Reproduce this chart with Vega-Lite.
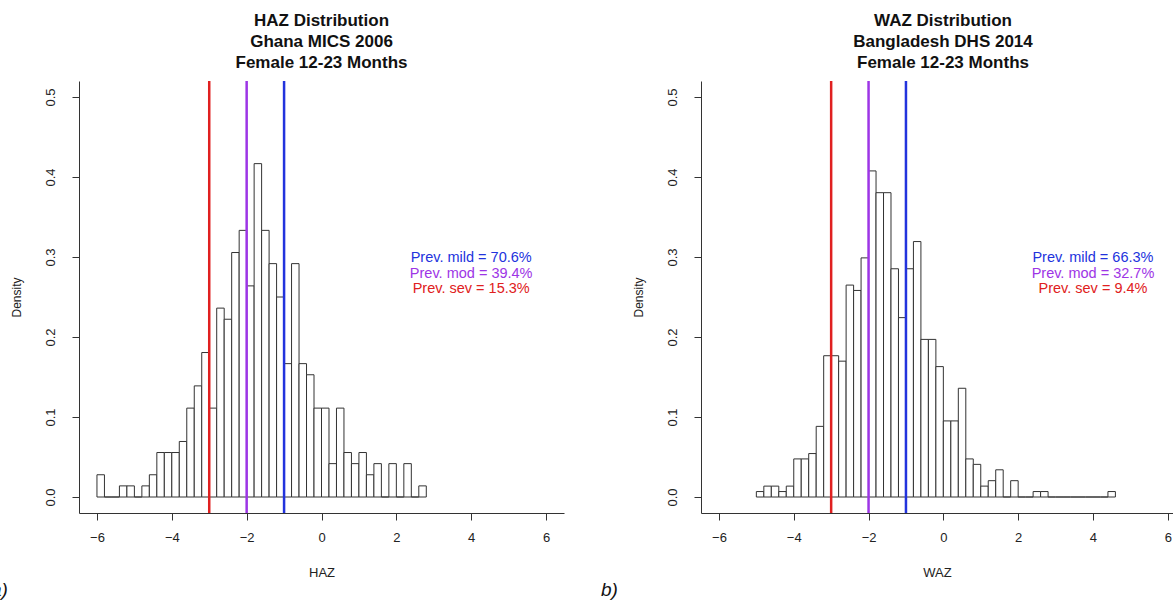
{
  "$schema": "https://vega.github.io/schema/vega-lite/v6.json",
  "background": "white",
  "padding": {"left": -9, "top": 11, "right": 0, "bottom": 0},
  "spacing": 37,
  "config": {
    "font": "Liberation Sans",
    "view": {"stroke": null},
    "axis": {"grid": false, "domainColor": "#333", "tickColor": "#333", "labelColor": "#222", "titleColor": "#222", "titleFontWeight": "normal", "labelFontSize": 13, "titleFontSize": 13, "tickSize": 7, "domainWidth": 1, "tickWidth": 1},
    "title": {"fontSize": 17, "fontWeight": "bold", "color": "#111", "anchor": "middle", "lineHeight": 21}
  },
  "datasets": {
    "haz": [
      {"lo": -6.0, "hi": -5.8, "density": 0.0278}, {"lo": -5.8, "hi": -5.6, "density": 0}, {"lo": -5.6, "hi": -5.4, "density": 0},
      {"lo": -5.4, "hi": -5.2, "density": 0.0139}, {"lo": -5.2, "hi": -5.0, "density": 0.0139}, {"lo": -5.0, "hi": -4.8, "density": 0},
      {"lo": -4.8, "hi": -4.6, "density": 0.0139}, {"lo": -4.6, "hi": -4.4, "density": 0.0278}, {"lo": -4.4, "hi": -4.2, "density": 0.0556},
      {"lo": -4.2, "hi": -4.0, "density": 0.0556}, {"lo": -4.0, "hi": -3.8, "density": 0.0556}, {"lo": -3.8, "hi": -3.6, "density": 0.0694},
      {"lo": -3.6, "hi": -3.4, "density": 0.1111}, {"lo": -3.4, "hi": -3.2, "density": 0.1389}, {"lo": -3.2, "hi": -3.0, "density": 0.1806},
      {"lo": -3.0, "hi": -2.8, "density": 0.1111}, {"lo": -2.8, "hi": -2.6, "density": 0.2361}, {"lo": -2.6, "hi": -2.4, "density": 0.2222},
      {"lo": -2.4, "hi": -2.2, "density": 0.3056}, {"lo": -2.2, "hi": -2.0, "density": 0.3333}, {"lo": -2.0, "hi": -1.8, "density": 0.2639},
      {"lo": -1.8, "hi": -1.6, "density": 0.4167}, {"lo": -1.6, "hi": -1.4, "density": 0.3333}, {"lo": -1.4, "hi": -1.2, "density": 0.2917},
      {"lo": -1.2, "hi": -1.0, "density": 0.25}, {"lo": -1.0, "hi": -0.8, "density": 0.1667}, {"lo": -0.8, "hi": -0.6, "density": 0.2917},
      {"lo": -0.6, "hi": -0.4, "density": 0.1667}, {"lo": -0.4, "hi": -0.2, "density": 0.1528}, {"lo": -0.2, "hi": 0.0, "density": 0.1111},
      {"lo": 0.0, "hi": 0.2, "density": 0.1111}, {"lo": 0.2, "hi": 0.4, "density": 0.0417}, {"lo": 0.4, "hi": 0.6, "density": 0.1111},
      {"lo": 0.6, "hi": 0.8, "density": 0.0556}, {"lo": 0.8, "hi": 1.0, "density": 0.0417}, {"lo": 1.0, "hi": 1.2, "density": 0.0556},
      {"lo": 1.2, "hi": 1.4, "density": 0.0278}, {"lo": 1.4, "hi": 1.6, "density": 0.0417}, {"lo": 1.6, "hi": 1.8, "density": 0},
      {"lo": 1.8, "hi": 2.0, "density": 0.0417}, {"lo": 2.0, "hi": 2.2, "density": 0}, {"lo": 2.2, "hi": 2.4, "density": 0.0417},
      {"lo": 2.4, "hi": 2.6, "density": 0}, {"lo": 2.6, "hi": 2.8, "density": 0.0139}
    ],
    "waz": [
      {"lo": -5.0, "hi": -4.8, "density": 0.0068}, {"lo": -4.8, "hi": -4.6, "density": 0.0136}, {"lo": -4.6, "hi": -4.4, "density": 0.0136},
      {"lo": -4.4, "hi": -4.2, "density": 0.0068}, {"lo": -4.2, "hi": -4.0, "density": 0.0136}, {"lo": -4.0, "hi": -3.8, "density": 0.0476},
      {"lo": -3.8, "hi": -3.6, "density": 0.0476}, {"lo": -3.6, "hi": -3.4, "density": 0.0543}, {"lo": -3.4, "hi": -3.2, "density": 0.0883},
      {"lo": -3.2, "hi": -3.0, "density": 0.1766}, {"lo": -3.0, "hi": -2.8, "density": 0.1766}, {"lo": -2.8, "hi": -2.6, "density": 0.1698},
      {"lo": -2.6, "hi": -2.4, "density": 0.2649}, {"lo": -2.4, "hi": -2.2, "density": 0.2582}, {"lo": -2.2, "hi": -2.0, "density": 0.2989},
      {"lo": -2.0, "hi": -1.8, "density": 0.4076}, {"lo": -1.8, "hi": -1.6, "density": 0.3804}, {"lo": -1.6, "hi": -1.4, "density": 0.3804},
      {"lo": -1.4, "hi": -1.2, "density": 0.2853}, {"lo": -1.2, "hi": -1.0, "density": 0.2242}, {"lo": -1.0, "hi": -0.8, "density": 0.2853},
      {"lo": -0.8, "hi": -0.6, "density": 0.3193}, {"lo": -0.6, "hi": -0.4, "density": 0.197}, {"lo": -0.4, "hi": -0.2, "density": 0.197},
      {"lo": -0.2, "hi": 0.0, "density": 0.163}, {"lo": 0.0, "hi": 0.2, "density": 0.0951}, {"lo": 0.2, "hi": 0.4, "density": 0.0951},
      {"lo": 0.4, "hi": 0.6, "density": 0.1359}, {"lo": 0.6, "hi": 0.8, "density": 0.0476}, {"lo": 0.8, "hi": 1.0, "density": 0.0408},
      {"lo": 1.0, "hi": 1.2, "density": 0.0136}, {"lo": 1.2, "hi": 1.4, "density": 0.0204}, {"lo": 1.4, "hi": 1.6, "density": 0.034},
      {"lo": 1.6, "hi": 1.8, "density": 0}, {"lo": 1.8, "hi": 2.0, "density": 0.0204}, {"lo": 2.0, "hi": 2.2, "density": 0},
      {"lo": 2.2, "hi": 2.4, "density": 0}, {"lo": 2.4, "hi": 2.6, "density": 0.0068}, {"lo": 2.6, "hi": 2.8, "density": 0.0068},
      {"lo": 2.8, "hi": 3.0, "density": 0}, {"lo": 3.0, "hi": 3.2, "density": 0}, {"lo": 3.2, "hi": 3.4, "density": 0},
      {"lo": 3.4, "hi": 3.6, "density": 0}, {"lo": 3.6, "hi": 3.8, "density": 0}, {"lo": 3.8, "hi": 4.0, "density": 0},
      {"lo": 4.0, "hi": 4.2, "density": 0}, {"lo": 4.2, "hi": 4.4, "density": 0}, {"lo": 4.4, "hi": 4.6, "density": 0.0068}
    ],
    "cutoffs": [
      {"z": -3, "level": "severe"}, {"z": -2, "level": "moderate"}, {"z": -1, "level": "mild"}
    ],
    "hazPrev": [
      {"level": "mild", "label": "Prev. mild = 70.6%"},
      {"level": "moderate", "label": "Prev. mod = 39.4%"},
      {"level": "severe", "label": "Prev. sev = 15.3%"}
    ],
    "wazPrev": [
      {"level": "mild", "label": "Prev. mild = 66.3%"},
      {"level": "moderate", "label": "Prev. mod = 32.7%"},
      {"level": "severe", "label": "Prev. sev = 9.4%"}
    ]
  },
  "hconcat": [
    {
      "title": {"text": "a)", "orient": "bottom", "anchor": "start", "fontSize": 19, "fontStyle": "italic", "fontWeight": "normal", "dx": -19, "offset": 2},
      "vconcat": [
        {
          "width": 485,
          "height": 432,
          "title": {"text": ["HAZ Distribution", "Ghana MICS 2006", "Female 12-23 Months"], "offset": 8},
          "layer": [
            {
              "data": {"name": "haz"},
              "mark": {"type": "rect", "fill": "white", "stroke": "#333", "strokeWidth": 1},
              "encoding": {
                "x": {"field": "lo", "type": "quantitative", "title": "HAZ", "scale": {"domain": [-6.48, 6.48], "nice": false, "zero": false},
                  "axis": {"values": [-6, -4, -2, 0, 2, 4, 6], "format": "d", "labelPadding": 11, "titlePadding": 22}},
                "x2": {"field": "hi"},
                "y": {"field": "density", "type": "quantitative", "title": "Density", "scale": {"domain": [-0.02, 0.52], "nice": false, "zero": false},
                  "axis": {"values": [0, 0.1, 0.2, 0.3, 0.4, 0.5], "format": ".1f", "labelAngle": 270, "labelAlign": "center", "labelBaseline": "bottom", "labelPadding": 15, "titlePadding": 21, "titleFontSize": 12}},
                "y2": {"datum": 0}
              }
            },
            {
              "data": {"name": "cutoffs"},
              "mark": {"type": "rule", "strokeWidth": 2.5},
              "encoding": {
                "x": {"field": "z", "type": "quantitative", "title": "HAZ", "scale": {"domain": [-6.48, 6.48], "nice": false, "zero": false}},
                "color": {"field": "level", "type": "nominal", "legend": null, "scale": {"domain": ["mild", "moderate", "severe"], "range": ["#2233dd", "#9d35e6", "#e02020"]}}
              }
            },
            {
              "data": {"name": "hazPrev"},
              "transform": [{"filter": "datum.level === 'mild'"}],
              "mark": {"type": "text", "fontSize": 14.5, "align": "center", "baseline": "middle"},
              "encoding": {
                "x": {"datum": 4, "type": "quantitative", "title": "HAZ"},
                "y": {"datum": 0.299, "type": "quantitative", "title": "Density"},
                "text": {"field": "label"},
                "color": {"field": "level", "type": "nominal", "legend": null}
              }
            },
            {
              "data": {"name": "hazPrev"},
              "transform": [{"filter": "datum.level === 'moderate'"}],
              "mark": {"type": "text", "fontSize": 14.5, "align": "center", "baseline": "middle"},
              "encoding": {
                "x": {"datum": 4, "type": "quantitative", "title": "HAZ"},
                "y": {"datum": 0.279, "type": "quantitative", "title": "Density"},
                "text": {"field": "label"},
                "color": {"field": "level", "type": "nominal", "legend": null}
              }
            },
            {
              "data": {"name": "hazPrev"},
              "transform": [{"filter": "datum.level === 'severe'"}],
              "mark": {"type": "text", "fontSize": 14.5, "align": "center", "baseline": "middle"},
              "encoding": {
                "x": {"datum": 4, "type": "quantitative", "title": "HAZ"},
                "y": {"datum": 0.26, "type": "quantitative", "title": "Density"},
                "text": {"field": "label"},
                "color": {"field": "level", "type": "nominal", "legend": null}
              }
            }
          ]
        }
      ]
    },
    {
      "title": {"text": "b)", "orient": "bottom", "anchor": "start", "fontSize": 19, "fontStyle": "italic", "fontWeight": "normal", "dx": -31, "offset": 2},
      "vconcat": [
        {
          "width": 472,
          "height": 432,
          "title": {"text": ["WAZ Distribution", "Bangladesh DHS 2014", "Female 12-23 Months"], "offset": 8, "dx": 6},
          "layer": [
            {
              "data": {"name": "waz"},
              "mark": {"type": "rect", "fill": "white", "stroke": "#333", "strokeWidth": 1},
              "encoding": {
                "x": {"field": "lo", "type": "quantitative", "title": "WAZ", "scale": {"domain": [-6.48, 6.14], "nice": false, "zero": false},
                  "axis": {"values": [-6, -4, -2, 0, 2, 4, 6], "format": "d", "labelPadding": 11, "titlePadding": 22}},
                "x2": {"field": "hi"},
                "y": {"field": "density", "type": "quantitative", "title": "Density", "scale": {"domain": [-0.02, 0.52], "nice": false, "zero": false},
                  "axis": {"values": [0, 0.1, 0.2, 0.3, 0.4, 0.5], "format": ".1f", "labelAngle": 270, "labelAlign": "center", "labelBaseline": "bottom", "labelPadding": 15, "titlePadding": 21, "titleFontSize": 12}},
                "y2": {"datum": 0}
              }
            },
            {
              "data": {"name": "cutoffs"},
              "mark": {"type": "rule", "strokeWidth": 2.5},
              "encoding": {
                "x": {"field": "z", "type": "quantitative", "title": "WAZ", "scale": {"domain": [-6.48, 6.14], "nice": false, "zero": false}},
                "color": {"field": "level", "type": "nominal", "legend": null, "scale": {"domain": ["mild", "moderate", "severe"], "range": ["#2233dd", "#9d35e6", "#e02020"]}}
              }
            },
            {
              "data": {"name": "wazPrev"},
              "transform": [{"filter": "datum.level === 'mild'"}],
              "mark": {"type": "text", "fontSize": 14.5, "align": "center", "baseline": "middle"},
              "encoding": {
                "x": {"datum": 4, "type": "quantitative", "title": "WAZ"},
                "y": {"datum": 0.299, "type": "quantitative", "title": "Density"},
                "text": {"field": "label"},
                "color": {"field": "level", "type": "nominal", "legend": null}
              }
            },
            {
              "data": {"name": "wazPrev"},
              "transform": [{"filter": "datum.level === 'moderate'"}],
              "mark": {"type": "text", "fontSize": 14.5, "align": "center", "baseline": "middle"},
              "encoding": {
                "x": {"datum": 4, "type": "quantitative", "title": "WAZ"},
                "y": {"datum": 0.279, "type": "quantitative", "title": "Density"},
                "text": {"field": "label"},
                "color": {"field": "level", "type": "nominal", "legend": null}
              }
            },
            {
              "data": {"name": "wazPrev"},
              "transform": [{"filter": "datum.level === 'severe'"}],
              "mark": {"type": "text", "fontSize": 14.5, "align": "center", "baseline": "middle"},
              "encoding": {
                "x": {"datum": 4, "type": "quantitative", "title": "WAZ"},
                "y": {"datum": 0.26, "type": "quantitative", "title": "Density"},
                "text": {"field": "label"},
                "color": {"field": "level", "type": "nominal", "legend": null}
              }
            }
          ]
        }
      ]
    }
  ]
}
